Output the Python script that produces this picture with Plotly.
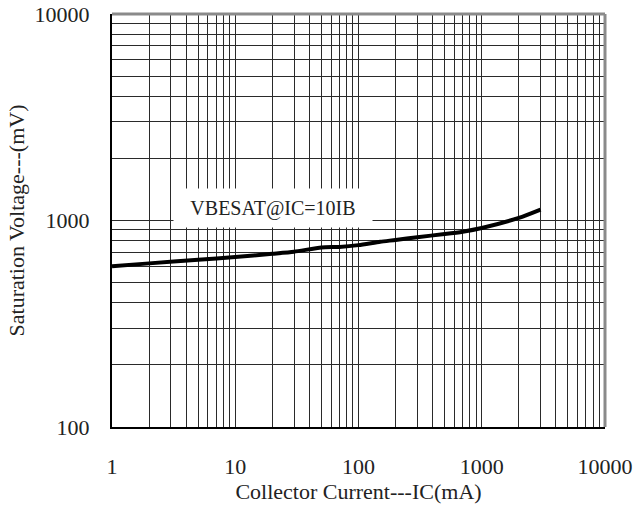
import plotly.graph_objects as go

# Base-emitter saturation voltage vs collector current (IC = 10 IB)
collector_current_ma = [1, 2, 5, 10, 20, 30, 50, 70, 100, 150, 200, 300, 500, 700, 1000, 2000, 3000]
vbe_sat_mv = [600, 620, 645, 665, 690, 706, 740, 745, 760, 789, 805, 830, 860, 883, 920, 1030, 1130]

x_decades = [1, 10, 100, 1000, 10000]
x_tick_labels = ["1", "10", "100", "1000", "10000"]
y_decades = [100, 1000, 10000]
y_tick_labels = ["100", "1000", "10000"]

series_label = "VBESAT@IC=10IB"
x_title = "Collector Current---IC(mA)"
y_title = "Saturation Voltage---(mV)"

FONT = "Liberation Serif"


def grid_positions(decades):
    vals = []
    for d in decades[:-1]:
        vals.extend(d * k for k in range(1, 10))
    vals.append(decades[-1])
    return vals


def grid_labels(decades, labels):
    lab = dict(zip(decades, labels))
    return [lab.get(v, "") for v in grid_positions(decades)]


fig = go.Figure()
fig.add_trace(go.Scatter(
    x=collector_current_ma, y=vbe_sat_mv, mode="lines",
    line=dict(color="black", width=4, shape="spline", smoothing=0.6),
    showlegend=False, hoverinfo="x+y",
))

fig.update_xaxes(
    type="log", range=[0, 4], automargin=False,
    tickvals=grid_positions(x_decades), ticktext=grid_labels(x_decades, x_tick_labels),
    showgrid=True, gridcolor="#2a2a2a", gridwidth=1,
    showline=True, linecolor="black", linewidth=2,
    ticks="", ticklabelstandoff=19,
    tickfont=dict(family=FONT, size=22, color="#222"),
    title=dict(text=x_title, font=dict(family=FONT, size=22, color="#222"), standoff=0),
    zeroline=False,
)
fig.update_yaxes(
    type="log", range=[2, 4], automargin=False,
    tickvals=grid_positions(y_decades), ticktext=grid_labels(y_decades, y_tick_labels),
    showgrid=True, gridcolor="#2a2a2a", gridwidth=1,
    showline=True, linecolor="black", linewidth=2,
    ticks="", ticklabelstandoff=16,
    tickfont=dict(family=FONT, size=22, color="#222"),
    title=dict(text=y_title, font=dict(family=FONT, size=22, color="#222"), standoff=4),
    zeroline=False,
)

# gray top and right frame edges
fig.add_shape(type="line", xref="x domain", yref="y domain", x0=0, x1=1, y0=1, y1=1,
              line=dict(color="#8a8a8a", width=3))
fig.add_shape(type="line", xref="x domain", yref="y domain", x0=1, x1=1, y0=0, y1=1,
              line=dict(color="#8a8a8a", width=3))

fig.add_annotation(
    x=1.31, y=3.06, xref="x", yref="y", text=series_label, showarrow=False,
    font=dict(family=FONT, size=20, color="#222"),
    bgcolor="white", width=190, height=30, borderpad=4, align="center",
)

fig.update_layout(
    width=636, height=509,
    margin=dict(l=112, r=31, t=14, b=82),
    plot_bgcolor="white", paper_bgcolor="white",
)

fig.write_html("out.html")
